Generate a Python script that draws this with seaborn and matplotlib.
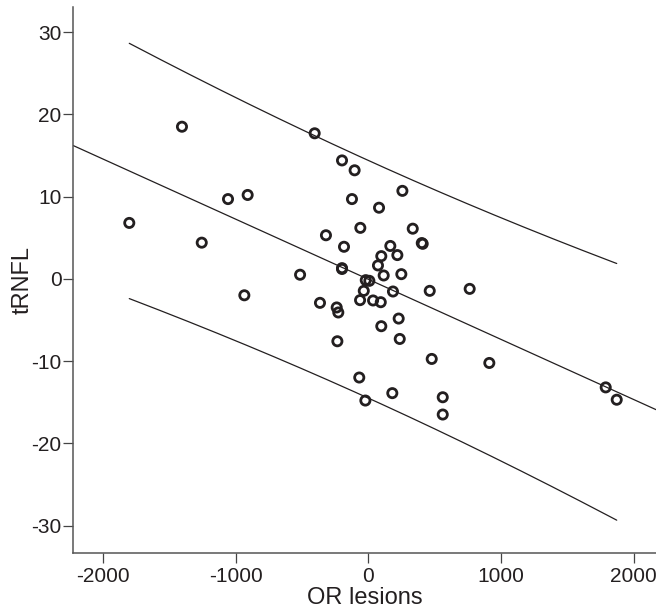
import numpy as np
import pandas as pd
import seaborn as sns
import matplotlib
matplotlib.use("Agg")
import matplotlib.pyplot as plt

# Data (OR lesions vs tRNFL)
or_lesions = [-1405, -405, -199, -104, -1058, -910, -124, -1802, -61, -320,
              -1256, -184, -199, -199, -515, -935,
              256, 80, 334, 402, 409, 165, 97, 218, 72, 115, 248,
              -20, 7, 462, 763, -35, 185, -63, 35, 93, -365, -239, -227,
              97, 228, 236, -234, 477, 911, -69, 180, -23, 560, 560, 1788, 1871]
trnfl = [18.5, 17.7, 14.4, 13.2, 9.7, 10.2, 9.7, 6.8, 6.2, 5.3,
         4.4, 3.9, 1.3, 1.2, 0.5, -2.0,
         10.7, 8.65, 6.1, 4.35, 4.26, 4.0, 2.76, 2.89, 1.63, 0.41, 0.57,
         -0.16, -0.24, -1.46, -1.22, -1.46, -1.54, -2.59, -2.63, -2.84, -2.92, -3.48, -4.09,
         -5.76, -4.83, -7.31, -7.59, -9.74, -10.23, -12.0, -13.9, -14.8, -14.4, -16.5, -13.2, -14.7]

x_ticks = [-2000, -1000, 0, 1000, 2000]
y_ticks = [-30, -20, -10, 0, 10, 20, 30]

df = pd.DataFrame({"OR lesions": or_lesions, "tRNFL": trnfl})

# Linear fit and 95% prediction interval
x = df["OR lesions"].values
y = df["tRNFL"].values
n = len(x)
slope, intercept = np.polyfit(x, y, 1)
resid = y - (intercept + slope * x)
s = np.sqrt(np.sum(resid ** 2) / (n - 2))
sxx = np.sum((x - x.mean()) ** 2)
t_crit = 2.0096  # t(0.975, df=n-2)

xlim = (-2224, 2167)
x_fit = np.linspace(xlim[0], xlim[1], 200)
x_pi = np.linspace(x.min(), x.max(), 200)
half = t_crit * s * np.sqrt(1 + 1 / n + (x_pi - x.mean()) ** 2 / sxx)
fit_df = pd.DataFrame({"x": x_fit, "y": intercept + slope * x_fit})
upper_df = pd.DataFrame({"x": x_pi, "y": intercept + slope * x_pi + half})
lower_df = pd.DataFrame({"x": x_pi, "y": intercept + slope * x_pi - half})

sns.set_style("ticks")
plt.rcParams["font.family"] = ["Liberation Sans", "DejaVu Sans"]
plt.rcParams["axes.unicode_minus"] = False

fig = plt.figure(figsize=(6.56, 6.16), dpi=100)
ax = fig.add_axes([0.1117, 0.1028, 0.8883, 0.8864])

for d in (fit_df, upper_df, lower_df):
    sns.lineplot(data=d, x="x", y="y", ax=ax, color="#231f20", linewidth=0.9)

sns.scatterplot(data=df, x="OR lesions", y="tRNFL", ax=ax, marker="o",
                s=44, facecolor="none", edgecolor="#231f20", linewidth=2.0, zorder=3)

ax.set_xlim(*xlim)
ax.set_ylim(-33.3, 33.1)
ax.set_xticks(x_ticks)
ax.set_yticks(y_ticks)
ax.tick_params(axis="both", length=7, width=0.9, color="#444444",
               labelsize=15, labelcolor="#231f20")
ax.tick_params(axis="y", pad=1.5)
ax.tick_params(axis="x", pad=3)
for side in ("top", "right"):
    ax.spines[side].set_visible(False)
for side in ("left", "bottom"):
    ax.spines[side].set_color("#555555")
    ax.spines[side].set_linewidth(1.1)

ax.set_xlabel("OR lesions", fontsize=17, color="#231f20")
ax.set_ylabel("tRNFL", fontsize=17, color="#231f20")
ax.xaxis.set_label_coords(0.5, -0.0635)
ax.yaxis.set_label_coords(-0.0674, 0.5)

fig.savefig("out.png", dpi=100)
